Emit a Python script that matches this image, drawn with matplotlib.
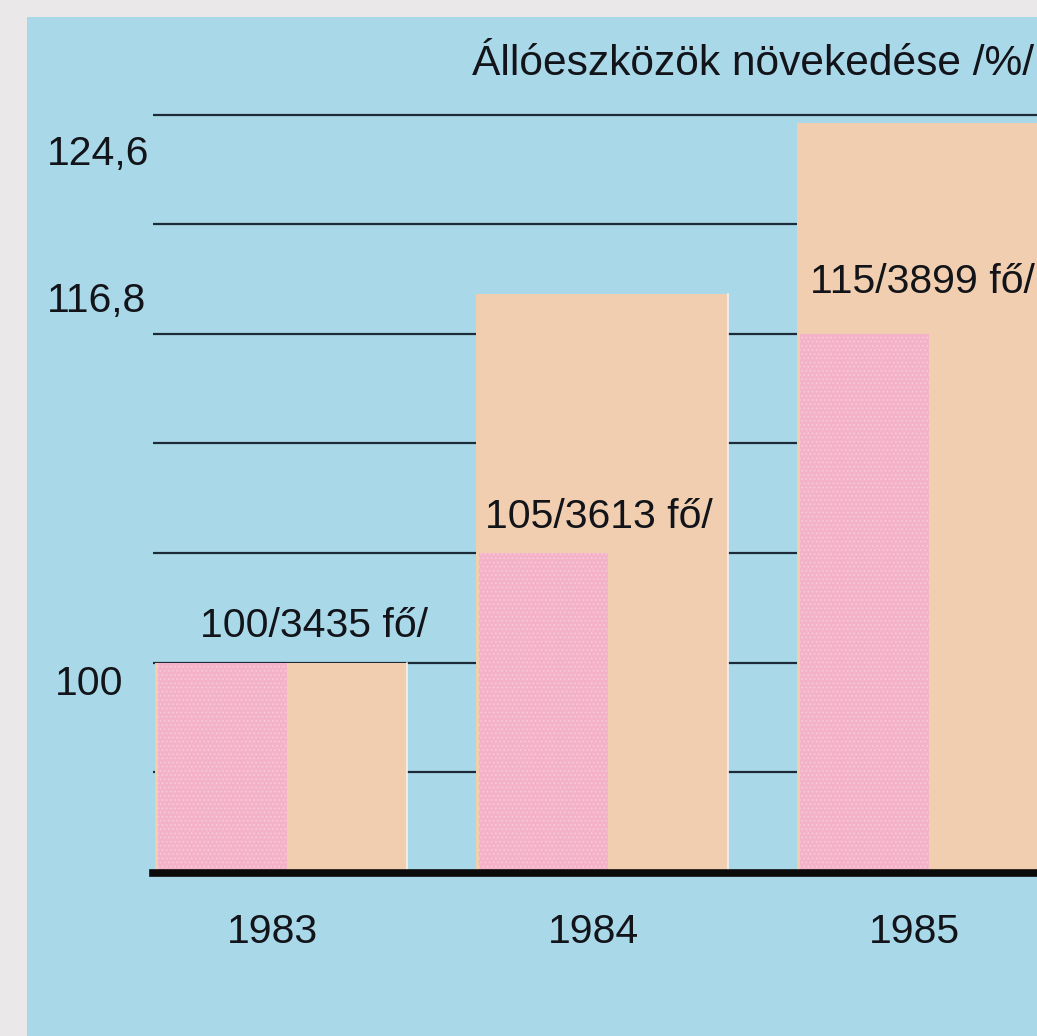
import numpy as np
import matplotlib
matplotlib.use('Agg')
from matplotlib import pyplot as plt
from matplotlib.patches import Rectangle

### DATA
years = ['1983', '1984', '1985']
workers_index = [100, 105, 115]          # pink bars
workers_count = [3435, 3613, 3899]
assets_index = [100, 116.8, 124.6]       # tan bars
axis_labels = ['124,6', '116,8', '100']
axis_label_values = [124.6, 116.8, 100]
grid_values = [95, 100, 105, 110, 115, 120, 125]
title = 'Állóeszközök növekedése /%/'

### STYLE
plt.rcParams['font.family'] = ['Liberation Sans', 'DejaVu Sans']
fs = 29.5
ink = '#121419'
blue = '#a9d8e9'
tan = '#f0ceaf'
pink = '#f4b2c8'
base = 90.4

W, H = 1037, 1036
fig = plt.figure(figsize = (W / 100, H / 100), dpi = 100)
fig.patch.set_facecolor('#ebe8e9')
fig.patches.append(Rectangle((27 / W, 0), 1, 1 - 17 / H, transform = fig.transFigure,
                             facecolor = blue, edgecolor = 'none', zorder = -10))

ax = fig.add_axes([153 / W, 1 - 873 / H, 1 - 153 / W, 873 / H])
ax.set_facecolor('none')
for s in ax.spines.values():
    s.set_visible(False)
ax.set_xticks([])
ax.set_yticks([])
ax.set_xlim(-2 / 321, (W - 155) / 321)
ax.set_ylim(base, 130.23)

x = np.arange(len(years))

# grid lines behind the bars
for g in grid_values:
    ax.axhline(g, color = '#1d2b38', lw = 1.6, zorder = 1)

# fixed assets (wide, behind)
tan_bars = ax.bar(x, np.array(assets_index) - base, bottom = base, width = 0.785, align = 'edge',
                  color = tan, linewidth = 0, zorder = 2)
# thin light rim on the right side of each tan bar, as in the print
for b in tan_bars:
    ax.plot([b.get_x() + b.get_width()] * 2, [base, b.get_y() + b.get_height()],
            color = '#f8f1ea', lw = 1.2, zorder = 2.5)

# workforce (narrow, in front, dotted raster)
plt.rcParams['hatch.linewidth'] = 0.6
ax.bar(x + 0.01, np.array(workers_index) - base, bottom = base, width = 0.40, align = 'edge',
       color = pink, edgecolor = '#f8cddd', hatch = '....', linewidth = 0, zorder = 3)

# baseline
ax.axhline(base, color = '#0b0b0b', lw = 5.5, zorder = 4, clip_on = False)

# bar labels
label_dx = [0.14, 0.028, 0.04]
label_dy = [26, 25, 41]   # pixels above the pink bar
for i, (w, n) in enumerate(zip(workers_index, workers_count)):
    ax.annotate(f'{w}/{n} fő/', xy = (x[i] + label_dx[i], w), xytext = (0, label_dy[i] * 0.72),
                textcoords = 'offset points', ha = 'left', va = 'baseline',
                fontsize = fs, color = ink, annotation_clip = False, zorder = 5)

# years under the axis
for i, yr in enumerate(years):
    ax.annotate(yr, xy = (x[i] + 0.365, H - 943), xycoords = ('data', 'figure pixels'),
                ha = 'center', va = 'baseline', fontsize = fs, color = ink, annotation_clip = False)

# value labels on the left
ylab_x = [47, 47, 55]
ylab_dy = [-42, -18, -32]
for lab, v, lx, dy in zip(axis_labels, axis_label_values, ylab_x, ylab_dy):
    ax.annotate(lab, xy = (lx, v), xycoords = ('figure pixels', 'data'),
                xytext = (0, dy * 0.72), textcoords = 'offset points',
                ha = 'left', va = 'baseline', fontsize = fs, color = ink, annotation_clip = False)

fig.text(472 / W, 1 - 75 / H, title, ha = 'left', va = 'baseline', fontsize = 30.6, color = ink)

fig.savefig('out.png', dpi = 100, facecolor = fig.get_facecolor())
